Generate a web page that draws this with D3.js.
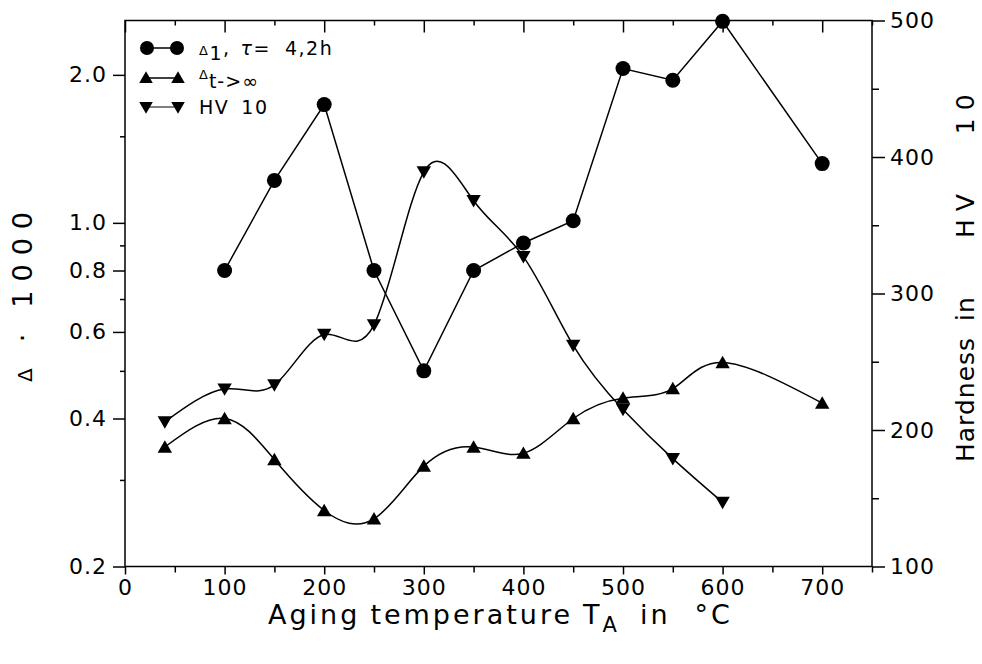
<!DOCTYPE html>
<html>
<head>
<meta charset="utf-8">
<script src="https://cdn.jsdelivr.net/npm/d3@7"></script>
<style>
  body { margin: 0; background: #fff; }
  text { font-family: "DejaVu Sans", sans-serif; fill: #000; }
</style>
</head>
<body>
<div id="chart"></div>
<script>
// temperatures (°C)
var tempDelta1 = [100, 150, 200, 250, 300, 350, 400, 450, 500, 550, 600, 700];
var delta1 = [0.8, 1.22, 1.74, 0.8, 0.5, 0.8, 0.91, 1.01, 2.06, 1.95, 2.57, 1.32];

var tempDeltaInf = [40, 100, 150, 200, 250, 300, 350, 400, 450, 500, 550, 600, 700];
var deltaInf = [0.35, 0.40, 0.33, 0.26, 0.25, 0.32, 0.35, 0.34, 0.40, 0.44, 0.46, 0.52, 0.43];

var tempHV = [40, 100, 150, 200, 250, 300, 350, 400, 450, 500, 550, 600];
var hv10 = [206, 230, 233, 270, 277, 389, 368, 327, 262, 215, 179, 147];

var xTicks = [0, 100, 200, 300, 400, 500, 600, 700];
var leftTicks = [0.2, 0.4, 0.6, 0.8, 1.0, 2.0];
var leftMinor = [0.3, 0.5, 0.7, 0.9, 1.5];
var rightTicks = [100, 200, 300, 400, 500];

var width = 982, height = 664;
var margin = { top: 20.5, right: 110, bottom: 97.5, left: 125 };
var w = width - margin.left - margin.right,
    h = height - margin.top - margin.bottom;

var svg = d3.select("#chart").append("svg")
    .attr("width", width)
    .attr("height", height);

var g = svg.append("g")
    .attr("transform", "translate(" + margin.left + "," + margin.top + ")");

var x = d3.scaleLinear().domain([0, 750]).range([0, w]);
var yL = d3.scaleLog().domain([0.2, 2.58]).range([h, 0]);
var yR = d3.scaleLinear().domain([100, 500]).range([h, 0]);

var fmt = d3.format(".1f");

// bottom axis: major outward, minor at 50s
g.append("g")
    .attr("transform", "translate(0," + h + ")")
    .call(d3.axisBottom(x).tickValues(d3.range(50, 751, 100)).tickSize(6).tickFormat(""))
    .call(a => a.select(".domain").remove());
g.append("g")
    .attr("class", "xaxis")
    .attr("transform", "translate(0," + h + ")")
    .call(d3.axisBottom(x).tickValues(xTicks).tickSize(8).tickPadding(5))
    .call(a => a.select(".domain").remove());

// top axis: ticks point inward
g.append("g")
    .call(d3.axisBottom(x).tickValues(xTicks).tickSize(12).tickFormat(""))
    .call(a => a.select(".domain").remove());
g.append("g")
    .call(d3.axisBottom(x).tickValues(d3.range(50, 751, 100)).tickSize(5).tickFormat(""))
    .call(a => a.select(".domain").remove());

// left axis
g.append("g")
    .call(d3.axisLeft(yL).tickValues(leftMinor).tickSize(5).tickFormat(""))
    .call(a => a.select(".domain").remove());
g.append("g")
    .attr("class", "yaxis")
    .call(d3.axisLeft(yL).tickValues(leftTicks).tickSize(12).tickPadding(6).tickFormat(fmt))
    .call(a => a.select(".domain").remove());

// right axis
g.append("g")
    .attr("transform", "translate(" + w + ",0)")
    .call(d3.axisRight(yR).tickValues([150, 250, 350, 450]).tickSize(7).tickFormat(""))
    .call(a => a.select(".domain").remove());
g.append("g")
    .attr("class", "yaxis")
    .attr("transform", "translate(" + w + ",0)")
    .call(d3.axisRight(yR).tickValues(rightTicks).tickSize(13).tickPadding(5))
    .call(a => a.select(".domain").remove());

g.selectAll(".tick line").attr("stroke", "#000").attr("stroke-width", 1.5);
g.selectAll(".xaxis text, .yaxis text")
    .style("font-family", "DejaVu Sans, sans-serif")
    .style("font-size", "22px")
    .style("letter-spacing", "1px")
    .attr("fill", "#000");

// frame
g.append("rect")
    .attr("width", w).attr("height", h)
    .attr("fill", "none")
    .attr("stroke", "#000")
    .attr("stroke-width", 1.5);

// data
var d1 = tempDelta1.map((t, i) => ({ t: t, v: delta1[i] }));
var dInf = tempDeltaInf.map((t, i) => ({ t: t, v: deltaInf[i] }));
var dHV = tempHV.map((t, i) => ({ t: t, v: hv10[i] }));

var lineD1 = d3.line().x(d => x(d.t)).y(d => yL(d.v));
var lineInf = d3.line().curve(d3.curveNatural).x(d => x(d.t)).y(d => yL(d.v));
var lineHV = d3.line().curve(d3.curveNatural).x(d => x(d.t)).y(d => yR(d.v));

g.append("path").datum(d1).attr("d", lineD1)
    .attr("fill", "none").attr("stroke", "#000").attr("stroke-width", 1.5);
g.append("path").datum(dInf).attr("d", lineInf)
    .attr("fill", "none").attr("stroke", "#000").attr("stroke-width", 1.5);
g.append("path").datum(dHV).attr("d", lineHV)
    .attr("fill", "none").attr("stroke", "#000").attr("stroke-width", 1.5);

var tri = d3.symbol(d3.symbolTriangle, 90);

g.selectAll(".c1").data(d1).enter().append("circle")
    .attr("cx", d => x(d.t)).attr("cy", d => yL(d.v)).attr("r", 7.5)
    .attr("fill", "#000");
g.selectAll(".up").data(dInf).enter().append("path")
    .attr("d", tri)
    .attr("transform", d => "translate(" + x(d.t) + "," + (yL(d.v) + 1.5) + ")")
    .attr("fill", "#000");
g.selectAll(".dn").data(dHV).enter().append("path")
    .attr("d", tri)
    .attr("transform", d => "translate(" + x(d.t) + "," + (yR(d.v) - 1.5) + ") rotate(180)")
    .attr("fill", "#000");

// legend
var leg = svg.append("g");
var legRows = [48, 78, 107];
leg.append("line").attr("x1", 147).attr("x2", 177).attr("y1", legRows[0]).attr("y2", legRows[0])
    .attr("stroke", "#000").attr("stroke-width", 1.5);
leg.append("circle").attr("cx", 147).attr("cy", legRows[0]).attr("r", 7);
leg.append("circle").attr("cx", 177).attr("cy", legRows[0]).attr("r", 7);
leg.append("line").attr("x1", 147).attr("x2", 177).attr("y1", legRows[1]).attr("y2", legRows[1])
    .attr("stroke", "#000").attr("stroke-width", 1.5);
leg.append("path").attr("d", d3.symbol(d3.symbolTriangle, 80)).attr("transform", "translate(146," + (legRows[1] + 1) + ")");
leg.append("path").attr("d", d3.symbol(d3.symbolTriangle, 80)).attr("transform", "translate(178," + (legRows[1] + 1) + ")");
leg.append("line").attr("x1", 147).attr("x2", 177).attr("y1", legRows[2]).attr("y2", legRows[2])
    .attr("stroke", "#000").attr("stroke-width", 1);
leg.append("path").attr("d", d3.symbol(d3.symbolTriangle, 80)).attr("transform", "translate(146," + (legRows[2] - 1) + ") rotate(180)");
leg.append("path").attr("d", d3.symbol(d3.symbolTriangle, 80)).attr("transform", "translate(178," + (legRows[2] - 1) + ") rotate(180)");

var t1 = leg.append("text").attr("x", 199).attr("y", legRows[0] + 7)
    .style("font-size", "19px").style("letter-spacing", "1.5px");
t1.append("tspan").text("Δ").style("font-size", "13px");
t1.append("tspan").text("1").attr("dy", 5);
t1.append("tspan").text(",").attr("dy", -5);
t1.append("tspan").text("τ").style("font-style", "italic").attr("dx", 10);
t1.append("tspan").text("=");
t1.append("tspan").text("4,2h").attr("dx", 14);

var t2 = leg.append("text").attr("x", 199).attr("y", legRows[1] + 1)
    .style("font-size", "19px").style("letter-spacing", "1px");
t2.append("tspan").text("Δ").style("font-size", "13px");
t2.append("tspan").text("t->∞").attr("dy", 9);

var t3 = leg.append("text").attr("x", 199).attr("y", legRows[2] + 7)
    .style("font-size", "19px").style("letter-spacing", "1.5px");
t3.append("tspan").text("HV");
t3.append("tspan").text("10").attr("dx", 12);

// axis titles
var xt = svg.append("text")
    .attr("x", 268).attr("y", 624)
    .style("font-size", "27px")
    .style("letter-spacing", "3px");
xt.append("tspan").text("Aging");
xt.append("tspan").text("temperature").attr("dx", 10);
xt.append("tspan").text("T").attr("dx", 10);
xt.append("tspan").text("A").attr("dy", 8).style("font-size", "21px");
xt.append("tspan").text("in").attr("dy", -8).attr("dx", 20);
xt.append("tspan").text("°C").attr("dx", 24);

var yt = svg.append("text")
    .attr("transform", "translate(32,382) rotate(-90)")
    .style("font-size", "27px");
yt.append("tspan").text("Δ").style("font-size", "20px");
yt.append("tspan").text("·").attr("dx", 26);
yt.append("tspan").text("1000").attr("dx", 26).style("letter-spacing", "9px");

var rt = svg.append("text")
    .attr("transform", "translate(974,462) rotate(-90)")
    .style("font-size", "25px")
    .style("letter-spacing", "1px");
rt.append("tspan").text("Hardness");
rt.append("tspan").text("in").attr("dx", 16);
rt.append("tspan").text("HV").attr("dx", 58).style("letter-spacing", "8px");
rt.append("tspan").text("10").attr("dx", 52).style("letter-spacing", "8px");
</script>
</body>
</html>
